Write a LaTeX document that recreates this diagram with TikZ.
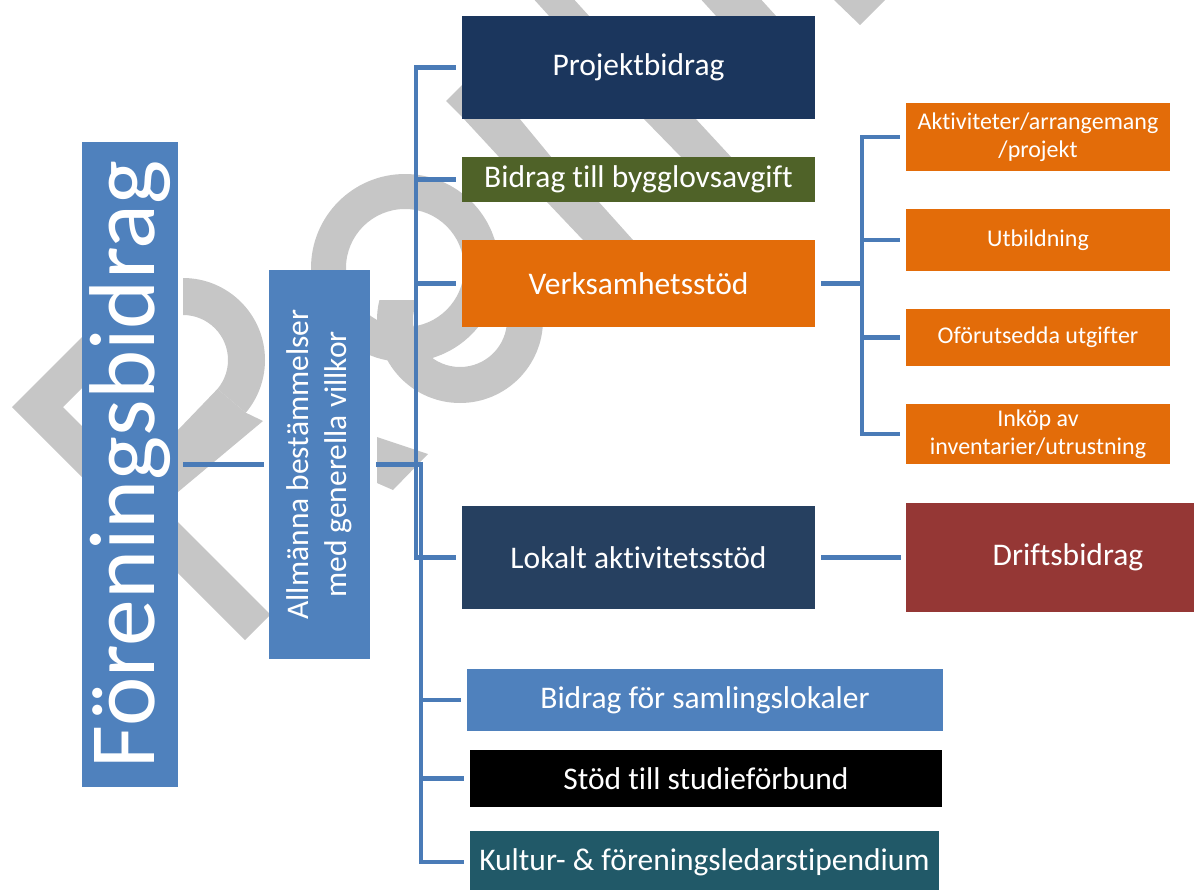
\documentclass[tikz,border=0pt]{standalone}
\usepackage{fontspec}
\setmainfont[RawFeature={-liga;-clig;-calt;-dlig}]{Carlito}
\definecolor{wm}{RGB}{198,198,198}
\definecolor{conncol}{RGB}{74,123,183}
\definecolor{fbblue}{RGB}{79,129,189}
\definecolor{navy}{RGB}{27,54,93}
\definecolor{olive}{RGB}{79,98,40}
\definecolor{orng}{RGB}{227,108,9}
\definecolor{slate}{RGB}{38,64,96}
\definecolor{brick}{RGB}{149,55,53}
\definecolor{teal}{RGB}{33,89,104}
\tikzset{
  box/.style={rectangle, inner sep=0pt, text=white, align=center,
    font=\fontsize{31.5}{38}\selectfont},
  subbox/.style={box, fill=orng, minimum width=264pt,
    font=\fontsize{24}{28}\selectfont},
  conn/.style={draw=conncol, line width=4.5pt},
}
\begin{document}
\begin{tikzpicture}[x=1pt,y=-1pt]
\useasboundingbox (0,0) rectangle (1194,889);
% watermark
\fill[wm] (150,269) -- (12,407) -- (245,640) -- (270.5,614.5) -- (63,407) -- (175.5,294.5) -- cycle;
\begin{scope}
  \clip (183,360) -- (183,255) -- (290,255) -- (290,450) -- cycle;
  \fill[wm, even odd rule] (183,360) circle[radius=82] (183,360) circle[radius=45];
\end{scope}
\fill[wm] (217.5,388.9) -- (245.8,412.7) -- (263,421) -- (178,492) -- (178,430) -- cycle;
\fill[wm, even odd rule] (405,268) circle[radius=94] (405,268) circle[radius=59];
\begin{scope}
  \clip (300,300) rectangle (600,420);
  \fill[wm, even odd rule] (460,320) circle[radius=83] (460,320) circle[radius=47];
\end{scope}
\fill[wm] (377,437) -- (428,454) -- (393,490) -- (377,483) -- cycle;
\fill[wm] (463,118) -- (519,118) -- (552,158) -- (500,158) -- cycle;
\fill[wm] (643,118) -- (695,118) -- (732,158) -- (682,158) -- cycle;
\fill[wm] (546,201) -- (598,201) -- (633,240) -- (583,240) -- cycle;
\fill[wm] (530,-5) -- (570,-5) -- (590,17) -- (550,17) -- cycle;
\fill[wm] (697,-5) -- (757,-5) -- (777,17) -- (717,17) -- cycle;
\fill[wm] (833,-1) -- (886,-1) -- (860,25) -- cycle;
\fill[wm] (446,101) -- (463,84) -- (463,118) -- cycle;

% nodes
\node[box, fill=fbblue, rotate=90, minimum width=645pt, minimum height=96pt,
  font=\fontsize{93.5}{100}\selectfont] (fb) at (130,464.5) {Föreningsbidrag};
\node[box, fill=fbblue, rotate=90, minimum width=389pt, minimum height=101pt] (al) at (319.5,464.5)
  {Allmänna bestämmelser\\med generella villkor};
\node[box, fill=navy, minimum width=353pt, minimum height=103pt] (pb) at (638.5,67.5) {Projektbidrag};
\node[box, fill=olive, minimum width=353pt, minimum height=45pt] (bg) at (638.5,179.5) {Bidrag till bygglovsavgift};
\node[box, fill=orng, minimum width=353pt, minimum height=87pt] (vs) at (638.5,283.5) {Verksamhetsstöd};
\node[box, fill=slate, minimum width=353pt, minimum height=103pt] (lk) at (638.5,557.5) {Lokalt aktivitetsstöd};
\node[box, fill=fbblue, minimum width=476pt, minimum height=62pt] (sl) at (705,700) {Bidrag för samlingslokaler};
\node[box, fill=black, minimum width=472pt, minimum height=57pt] (st) at (706,778.5) {Stöd till studieförbund};
\node[box, fill=teal, minimum width=469pt, minimum height=62pt] (ku) at (704.5,862) {Kultur- \& föreningsledarstipendium};
\node[subbox, minimum height=68pt] (a1) at (1038,137) {Aktiviteter/arrangemang\\/projekt};
\node[subbox, minimum height=62pt] (a2) at (1038,240) {Utbildning};
\node[subbox, minimum height=57pt] (a3) at (1038,337.5) {Oförutsedda utgifter};
\node[subbox, minimum height=60pt] (a4) at (1038,434) {Inköp av\\inventarier/utrustning};
\node[box, fill=brick, minimum width=324pt, minimum height=109pt] (dr) at (1068,557.5) {Driftsbidrag};

% connectors
\coordinate (v1) at (416,0);
\coordinate (v2) at (421,0);
\coordinate (v3) at (862,0);
\draw[conn] ([xshift=5pt]fb.south) -- ([xshift=-5pt]al.north);
\draw[conn] ([xshift=-6pt]pb.west) -| (v1 |- lk.west) -- ([xshift=-6pt]lk.west);
\draw[conn] ([xshift=-6pt]bg.west) -- (v1 |- bg.west);
\draw[conn] ([xshift=-6pt]vs.west) -- (v1 |- vs.west);
\draw[conn] ([xshift=6pt]al.south) -| (v2 |- ku.west) -- ([xshift=-6pt]ku.west);
\draw[conn] ([xshift=-6pt]sl.west) -- (v2 |- sl.west);
\draw[conn] ([xshift=-6pt]st.west) -- (v2 |- st.west);
\draw[conn] ([xshift=6pt]vs.east) -- (v3 |- vs.east);
\draw[conn] ([xshift=-6pt]a1.west) -| (v3 |- a4.west) -- ([xshift=-6pt]a4.west);
\draw[conn] ([xshift=-6pt]a2.west) -- (v3 |- a2.west);
\draw[conn] ([xshift=-6pt]a3.west) -- (v3 |- a3.west);
\draw[conn] ([xshift=6pt]lk.east) -- ([xshift=-5pt]dr.west);
\end{tikzpicture}
\end{document}
